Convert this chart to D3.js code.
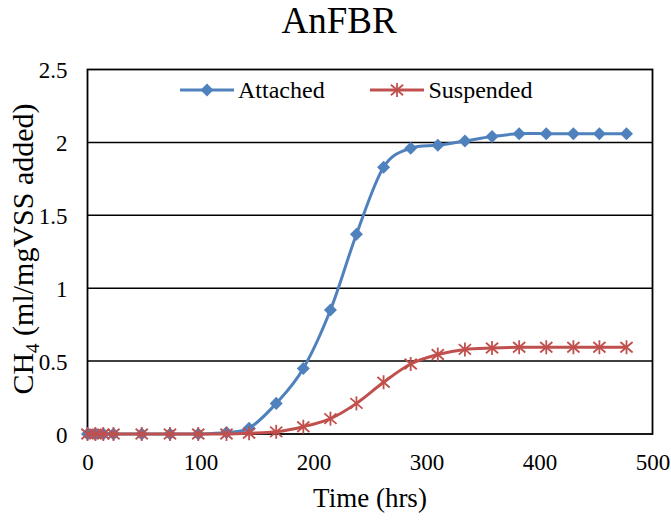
<!DOCTYPE html>
<html><head><meta charset="utf-8">
<script src="https://cdn.jsdelivr.net/npm/d3@7"></script>
<style>body{margin:0;background:#fff}svg{display:block}text{font-family:"Liberation Serif","Times New Roman",serif;fill:#000}</style>
</head><body>
<svg id="c" width="671" height="520"></svg>
<script>
const time = [0, 7, 14, 23, 48, 73, 98, 123, 143, 167, 191, 215, 238, 262, 286, 310, 334, 358, 382, 406, 430, 453, 477];
const attached = [0, 0, 0, 0, 0, 0, 0, 0.01, 0.04, 0.21, 0.45, 0.85, 1.37, 1.83, 1.96, 1.98, 2.01, 2.04, 2.06, 2.06, 2.06, 2.06, 2.06];
const suspended = [0, 0, 0, 0, 0, 0, 0, 0, 0.005, 0.015, 0.05, 0.105, 0.21, 0.355, 0.48, 0.545, 0.58, 0.59, 0.595, 0.595, 0.595, 0.595, 0.595];
const xTicks = [0, 100, 200, 300, 400, 500];
const yTicks = [0, 0.5, 1, 1.5, 2, 2.5];
const seriesNames = ["Attached", "Suspended"];
const colors = ["#4F81BD", "#C0504D"];
const FONT = '"Liberation Serif","Times New Roman",serif';

const svg = d3.select("#c");
const L = 87.5, R = 652.5, T = 69.5, B = 434;
const x = d3.scaleLinear().domain([0, 500]).range([L, R]);
const y = d3.scaleLinear().domain([0, 2.5]).range([B, T]);

// title
svg.append("text").attr("x", 339).attr("y", 33).attr("text-anchor", "middle").attr("font-family", FONT).style("font-size", "37px").text("AnFBR");

// gridlines
svg.append("g").selectAll("line").data(yTicks.filter(d => d > 0 && d < 2.5)).join("line")
  .attr("x1", L).attr("x2", R).attr("y1", d => y(d)).attr("y2", d => y(d))
  .attr("stroke", "#000").attr("stroke-width", 1.5);

// frame
svg.append("rect").attr("x", L).attr("y", T).attr("width", R - L).attr("height", B - T)
  .attr("fill", "none").attr("stroke", "#000").attr("stroke-width", 1.8);

// axes
const yAx = svg.append("g").attr("transform", `translate(${L},0)`)
  .call(d3.axisLeft(y).tickValues(yTicks).tickSize(0).tickPadding(20).tickFormat(d => String(d)));
yAx.attr("font-family", FONT);
yAx.select(".domain").remove();
yAx.selectAll("text").style("font-size", "23px").attr("dy", "0.35em");

const xAx = svg.append("g").attr("transform", `translate(0,${B})`)
  .call(d3.axisBottom(x).tickValues(xTicks).tickSize(0).tickPadding(20).tickFormat(d => String(d)));
xAx.attr("font-family", FONT);
xAx.select(".domain").remove();
xAx.selectAll("text").style("font-size", "23px").attr("dy", "0.71em");

// axis titles
svg.append("text").attr("x", 370).attr("y", 507).attr("text-anchor", "middle").attr("font-family", FONT).style("font-size", "27px").text("Time (hrs)");
const yt = svg.append("text").attr("transform", "translate(33,249) rotate(-90)").attr("text-anchor", "middle").attr("font-family", FONT).style("font-size", "30px");
yt.append("tspan").text("CH");
yt.append("tspan").attr("dy", 6).style("font-size", "19px").text("4");
yt.append("tspan").attr("dy", -6).text(" (ml/mgVSS added)");

// lines
const line = d3.line().x(d => x(d[0])).y(d => y(d[1])).curve(d3.curveCardinal.tension(0));
const dataA = time.map((t, i) => [t, attached[i]]);
const dataS = time.map((t, i) => [t, suspended[i]]);

function star(g, cx, cy, r, col) {
  const s = g.append("g").attr("transform", `translate(${cx},${cy})`).attr("stroke", col).attr("stroke-width", 1.8);
  s.append("line").attr("x1", 0).attr("x2", 0).attr("y1", -r).attr("y2", r);
  s.append("line").attr("x1", -r * 0.87).attr("x2", r * 0.87).attr("y1", -r * 0.75).attr("y2", r * 0.75);
  s.append("line").attr("x1", -r * 0.87).attr("x2", r * 0.87).attr("y1", r * 0.75).attr("y2", -r * 0.75);
}
const diamond = d3.symbol().type(d3.symbolDiamond2).size(108);

svg.append("path").datum(dataA).attr("d", line).attr("fill", "none").attr("stroke", colors[0]).attr("stroke-width", 3);
svg.append("g").selectAll("path").data(dataA).join("path")
  .attr("d", diamond).attr("transform", d => `translate(${x(d[0])},${y(d[1])})`).attr("fill", colors[0]);

svg.append("path").datum(dataS).attr("d", line).attr("fill", "none").attr("stroke", colors[1]).attr("stroke-width", 3);
const sg = svg.append("g");
dataS.forEach(d => star(sg, x(d[0]), y(d[1]), 7, colors[1]));

// legend
const lg = svg.append("g");
lg.append("line").attr("x1", 180).attr("x2", 234).attr("y1", 90).attr("y2", 90).attr("stroke", colors[0]).attr("stroke-width", 3);
lg.append("path").attr("d", diamond).attr("transform", "translate(207,90)").attr("fill", colors[0]);
lg.append("text").attr("x", 238).attr("y", 97.5).attr("font-family", FONT).style("font-size", "24px").text(seriesNames[0]);
lg.append("line").attr("x1", 370).attr("x2", 424).attr("y1", 90).attr("y2", 90).attr("stroke", colors[1]).attr("stroke-width", 3);
star(lg, 397, 90, 7, colors[1]);
lg.append("text").attr("x", 428.5).attr("y", 97.5).attr("font-family", FONT).style("font-size", "24px").text(seriesNames[1]);
</script>
</body></html>
